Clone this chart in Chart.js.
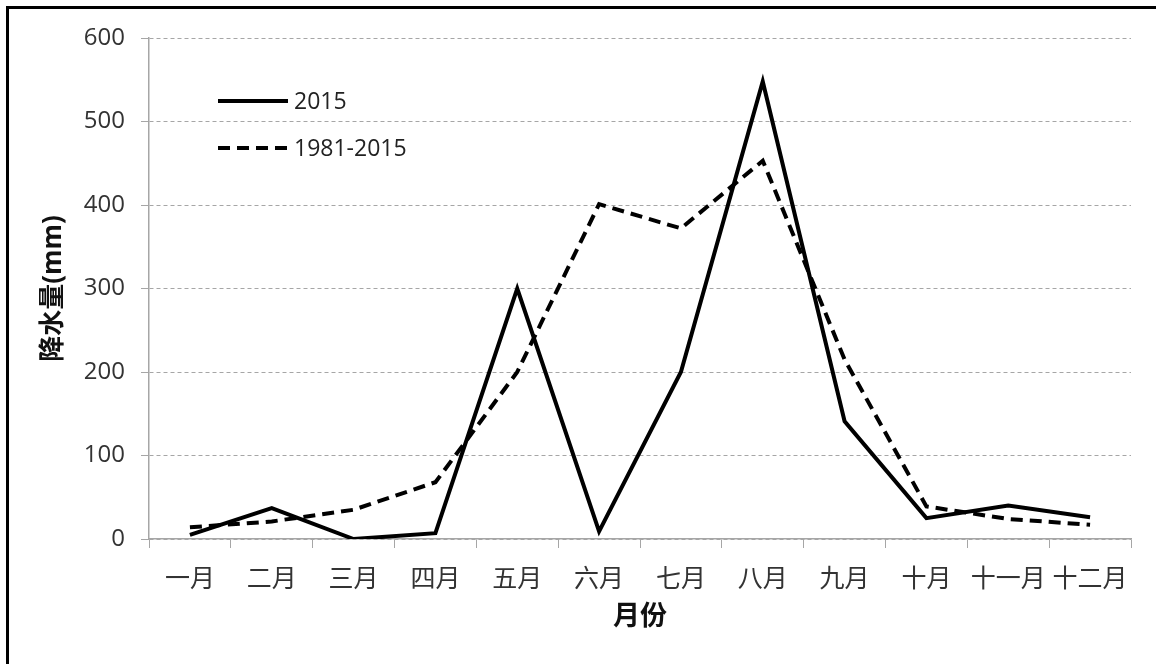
<!DOCTYPE html>
<html>
<head>
<meta charset="utf-8">
<script src="https://cdn.jsdelivr.net/npm/chart.js@4/dist/chart.umd.min.js"></script>
<style>
html,body{margin:0;padding:0;background:#fff;}
#wrap{position:relative;width:1156px;height:664px;}
</style>
</head>
<body>
<div id="wrap"><canvas id="c" width="1156" height="664"></canvas></div>
<script>
const months = ['一月','二月','三月','四月','五月','六月','七月','八月','九月','十月','十一月','十二月'];
const rain2015 = [5, 37, 0, 7, 300, 9, 200, 548, 141, 25, 40, 26];
const rainAvg = [14, 21, 35, 68, 200, 401, 372, 453, 215, 39, 24, 17];
const yTicks = [0, 100, 200, 300, 400, 500, 600];
const seriesNames = ['2015', '1981-2015'];

const FONT = "'Open Sans','Noto Sans CJK SC',sans-serif";
const GRID = '#a6a6a6';

const frame = {
  id: 'frame',
  afterDraw(chart) {
    const ctx = chart.ctx;
    ctx.save();
    ctx.strokeStyle = '#000';
    ctx.lineWidth = 3;
    ctx.strokeRect(7.5, 7.5, 1170, 680);
    ctx.restore();
  }
};

const legendIn = {
  id: 'legendIn',
  afterDraw(chart) {
    const ctx = chart.ctx;
    ctx.save();
    const x0 = 218, x1 = 288, ys = [101, 148];
    chart.data.datasets.forEach((ds, i) => {
      ctx.beginPath();
      ctx.strokeStyle = ds.borderColor;
      ctx.lineWidth = ds.borderWidth;
      ctx.setLineDash(ds.borderDash || []);
      ctx.lineCap = 'butt';
      ctx.moveTo(x0, ys[i]);
      ctx.lineTo(x1, ys[i]);
      ctx.stroke();
      ctx.setLineDash([]);
      ctx.fillStyle = '#222';
      ctx.font = "23px " + FONT;
      ctx.textBaseline = 'middle';
      ctx.textAlign = 'left';
      ctx.fillText(ds.label, x1 + 6, ys[i] + 1);
    });
    ctx.restore();
  }
};

new Chart(document.getElementById('c'), {
  type: 'line',
  data: {
    labels: months,
    datasets: [
      { label: seriesNames[0], data: rain2015, borderColor: '#000', borderWidth: 4, pointRadius: 0, tension: 0, fill: false, borderJoinStyle: 'miter' },
      { label: seriesNames[1], data: rainAvg, borderColor: '#000', borderWidth: 4, borderDash: [12, 7], pointRadius: 0, tension: 0, fill: false }
    ]
  },
  options: {
    responsive: false,
    animation: false,
    devicePixelRatio: 1,
    layout: { padding: { top: 38, right: 25, left: 34, bottom: 0 } },
    plugins: { legend: { display: false }, tooltip: { enabled: false } },
    scales: {
      x: {
        offset: true,
        grid: { display: true, drawOnChartArea: false, drawTicks: true, tickLength: 9, offset: true, color: GRID },
        border: { display: true, color: GRID, width: 1.5 },
        ticks: { color: '#333', font: { family: FONT, size: 25 }, padding: 17, maxRotation: 0, autoSkip: false },
        title: { display: true, text: '月份', color: '#111', font: { family: FONT, size: 27, weight: 'bold' }, padding: { top: 2, bottom: 30 } },
        afterFit(s) { s.height = 664 - 539; }
      },
      y: {
        min: 0, max: 600,
        afterBuildTicks(s) { s.ticks = yTicks.map(v => ({ value: v })); },
        grid: { color: GRID, lineWidth: 1, tickLength: 8, tickBorderDash: [], tickColor: GRID },
        border: { display: true, color: GRID, width: 1.5, dash: [4, 3] },
        ticks: { color: '#333', font: { family: FONT, size: 24 }, padding: 16 },
        title: { display: true, text: '降水量(mm)', color: '#111', font: { family: FONT, size: 26, weight: 'bold' }, padding: { bottom: 4 } },
        afterFit(s) { s.width = 149 - 34; }
      }
    }
  },
  plugins: [frame, legendIn]
});
</script>
</body>
</html>
